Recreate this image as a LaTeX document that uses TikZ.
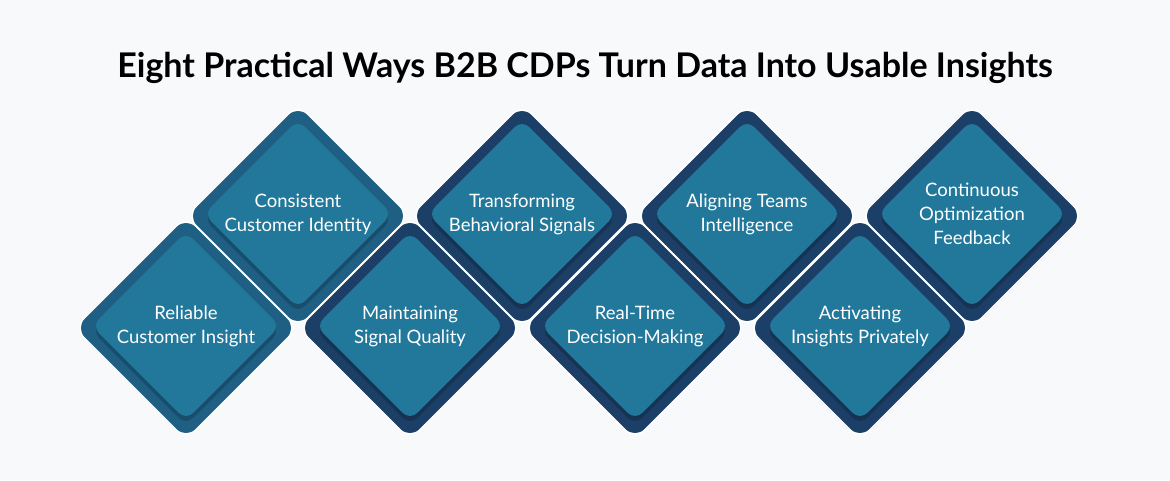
\documentclass[tikz,border=0pt]{standalone}
\usepackage{fontspec}
\setmainfont{Lato}
\definecolor{outerA}{HTML}{1F5F84}
\definecolor{outerB}{HTML}{1B3F66}
\definecolor{inner}{HTML}{22789B}
\definecolor{bg}{HTML}{F8F9FB}
\begin{document}
\begin{tikzpicture}[x=1pt,y=-1pt,
  outer/.style={rectangle,rotate=45,minimum size=158pt,rounded corners=14pt,inner sep=0pt},
  innr/.style={rectangle,rotate=45,minimum size=133pt,rounded corners=10pt,inner sep=0pt},
  lbl/.style={text=white,align=center,font=\fontsize{18.5}{24}\selectfont}]
\fill[bg] (0,0) rectangle (1170,480);
\node[font=\bfseries\fontsize{34}{36}\selectfont] (title) at (585,68) {Eight Practical Ways B2B CDPs Turn Data Into Usable Insights};
\foreach \n/\x/\y/\c/\t in {
 a/186/328/outerA/{Reliable\\Customer Insight},
 b/298/216/outerA/{Consistent\\Customer Identity},
 c/410/328/outerB/{Maintaining\\Signal Quality},
 d/522/216/outerB/{Transforming\\Behavioral Signals},
 e/635/328/outerB/{Real-Time\\Decision-Making},
 f/747/216/outerB/{Aligning Teams\\Intelligence},
 g/860/328/outerB/{Activating\\Insights Privately},
 h/972/216/outerB/{Continuous\\Optimization\\Feedback}}{
 \node[outer,fill=\c,draw=white,line width=1.5pt] (o\n) at (\x,\y) {};
 \node[innr,fill=black,opacity=.18] (s\n) at (\x,\y+3) {};
 \node[innr,fill=inner] (i\n) at (\x,\y-2) {};
 \node[lbl] (t\n) at (\x,\y-2) {\t};
}
\end{tikzpicture}
\end{document}
